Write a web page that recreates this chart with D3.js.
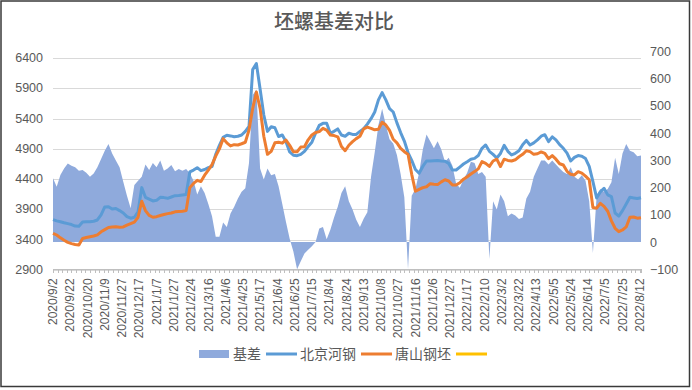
<!DOCTYPE html>
<html>
<head>
<meta charset="utf-8">
<style>
body { margin: 0; background: #fff; }
svg { display: block; font-family: "Liberation Sans", "Noto Sans CJK SC", sans-serif; }
.axis text { fill: #595959; font-size: 12.5px; }
.grid line { stroke: #d9d9d9; stroke-width: 1; shape-rendering: crispEdges; }
.xaxis path, .xaxis line { stroke: #bfbfbf; shape-rendering: crispEdges; }
</style>
<script src="https://cdn.jsdelivr.net/npm/d3@7"></script>
</head>
<body>
<script>
// 交易日序号: 标签每14个交易日一个, 数据每3个交易日取一个
var labelEvery = 14, sampleEvery = 3, lastIndex = 477;

var tickLabels = ["2020/9/2","2020/9/22","2020/10/20","2020/11/9","2020/11/27","2020/12/17",
  "2021/1/7","2021/1/27","2021/2/24","2021/3/16","2021/4/6","2021/4/25","2021/5/17","2021/6/4",
  "2021/6/25","2021/7/15","2021/8/4","2021/8/24","2021/9/13","2021/10/8","2021/10/27","2021/11/16",
  "2021/12/6","2021/12/27","2022/1/17","2022/2/10","2022/3/2","2022/3/22","2022/4/13","2022/5/5",
  "2022/5/24","2022/6/14","2022/7/5","2022/7/25","2022/8/12"];

// 基差 (右轴)
var basis = [234,203,246,270,289,280,275,262,265,255,
  240,252,275,305,335,360,325,300,275,222,
  170,124,210,225,240,285,265,290,275,300,
  262,270,283,260,268,262,268,253,225,175,
  205,180,140,95,20,20,72,55,105,130,
  160,185,198,290,540,560,270,230,270,245,
  250,205,140,74,12,-35,-100,-70,-42,-28,
  -15,0,50,55,10,45,90,130,180,205,
  150,120,82,55,86,110,240,330,430,490,
  430,378,362,320,250,165,-100,170,195,255,
  340,395,370,345,370,340,295,310,280,215,
  200,230,255,295,290,250,257,240,-62,150,
  120,175,150,95,105,98,85,90,160,185,
  240,270,300,300,285,300,285,270,257,250,
  275,240,230,245,225,150,-40,170,195,185,
  195,220,310,250,325,360,335,330,315,318];

// 北京河钢 (左轴)
var beijing = [3720,3700,3687,3670,3655,3640,3615,3610,3680,3685,
  3687,3695,3715,3800,3930,3935,3897,3905,3870,3830,
  3770,3745,3760,3850,4250,4090,4060,4030,4040,4090,
  4085,4073,4095,4117,4120,4128,4135,4510,4540,4580,
  4530,4550,4580,4600,4800,4950,5080,5115,5105,5092,
  5100,5120,5180,5260,6200,6300,5880,5450,5180,5257,
  5240,5095,5120,5010,4840,4785,4778,4800,4850,4930,
  5000,5150,5280,5313,5313,5150,5180,5220,5120,5100,
  5148,5130,5130,5180,5225,5300,5390,5500,5700,5820,
  5700,5555,5500,5320,5160,5020,4830,4700,4550,4487,
  4600,4690,4690,4695,4700,4690,4685,4650,4541,4541,
  4590,4640,4679,4720,4734,4780,4900,4955,4850,4800,
  4740,4815,4950,4850,4790,4817,4860,4960,5030,4955,
  4990,5040,5100,5125,5010,5090,5040,4960,4900,4820,
  4690,4750,4780,4770,4730,4600,4350,4080,4180,4240,
  4130,4100,3830,3780,3870,3980,4090,4080,4070,4084];

// 唐山钢坯 (左轴)
var tangshan = [3495,3467,3420,3380,3345,3325,3310,3300,3410,3425,
  3439,3450,3470,3520,3555,3590,3600,3604,3595,3600,
  3630,3655,3680,3760,4025,3870,3790,3760,3770,3790,
  3805,3820,3830,3850,3855,3860,3870,4250,4320,4370,
  4350,4455,4540,4630,4770,4890,5060,4990,4940,4960,
  4955,4975,5000,5200,5560,5830,5560,5100,4800,4850,
  4990,5000,4985,5037,4950,4844,4844,4920,4927,5040,
  5120,5160,5175,5230,5200,5120,5110,5090,4930,4860,
  4950,5010,5060,5100,5220,5250,5230,5205,5215,5330,
  5285,5195,5050,4990,4900,4844,4800,4470,4190,4220,
  4250,4265,4315,4305,4300,4345,4380,4360,4293,4293,
  4330,4390,4431,4475,4515,4560,4679,4650,4600,4690,
  4720,4600,4720,4700,4690,4710,4760,4800,4860,4845,
  4800,4810,4840,4815,4730,4780,4720,4645,4624,4520,
  4470,4460,4513,4490,4440,4380,3920,3910,3991,3940,
  3860,3700,3578,3522,3550,3600,3760,3765,3745,3753];

var leftTicks = [2900,3400,3900,4400,4900,5400,5900,6400];
var rightTicks = [-100,0,100,200,300,400,500,600,700];

var colors = { basis: "#8faadc", beijing: "#5b9bd5", tangshan: "#ed7d31", blank: "#ffc000" };

var W = 692, H = 390;
var margin = { top: 51.5, right: 51, bottom: 120.7, left: 53 },
    width = W - margin.left - margin.right,
    height = H - margin.top - margin.bottom;

var svg = d3.select("body").append("svg")
    .attr("width", W)
    .attr("height", H);

svg.append("rect")
    .attr("x", 1).attr("y", 1)
    .attr("width", 688.5).attr("height", 385.5)
    .attr("fill", "#fff")
    .attr("stroke", "#3a3a3a")
    .attr("stroke-width", 1.5);

svg.append("text")
    .attr("x", 334).attr("y", 29)
    .attr("text-anchor", "middle")
    .style("font-family", "'Noto Sans CJK SC', sans-serif")
    .style("font-size", "20px")
    .style("font-weight", 500)
    .attr("fill", "#595959")
    .text("坯螺基差对比");

var g = svg.append("g")
    .attr("transform", "translate(" + margin.left + "," + margin.top + ")");

var x = d3.scaleLinear().domain([0, lastIndex]).range([0, width]);
var yL = d3.scaleLinear().domain([2900, 6500]).range([height, 0]);
var yR = d3.scaleLinear().domain([-100, 700]).range([height, 0]);

// 网格线
g.append("g").attr("class", "grid")
  .selectAll("line").data(leftTicks).enter().append("line")
    .attr("x1", 0).attr("x2", width)
    .attr("y1", function(d) { return Math.round(yL(d)) + 0.5; })
    .attr("y2", function(d) { return Math.round(yL(d)) + 0.5; });

// 基差面积
var area = d3.area()
    .x(function(d, i) { return x(i * sampleEvery); })
    .y0(yR(0))
    .y1(function(d) { return yR(d); });

g.append("path")
    .datum(basis)
    .attr("fill", colors.basis)
    .attr("d", area);

// x 轴
g.append("g")
    .attr("class", "xaxis")
    .attr("transform", "translate(0," + height + ")")
    .call(d3.axisBottom(x)
        .tickValues(d3.range(0, lastIndex + 0.1, 3.75))
        .tickSize(4)
        .tickFormat(""));

g.append("g").attr("class", "axis")
  .selectAll("text").data(tickLabels).enter().append("text")
    .attr("transform", function(d, i) {
        return "translate(" + x(i * labelEvery) + "," + (height + 9) + ") rotate(-90)";
    })
    .attr("text-anchor", "end")
    .attr("dy", "0.35em")
    .style("font-size", "12px")
    .text(function(d) { return d; });

// 左右轴
g.append("g").attr("class", "axis")
    .call(d3.axisLeft(yL).tickValues(leftTicks).tickSize(0).tickPadding(10).tickFormat(d3.format("d")))
    .call(function(s) { s.select(".domain").remove(); });

g.append("g").attr("class", "axis")
    .attr("transform", "translate(" + width + ",0)")
    .call(d3.axisRight(yR).tickValues(rightTicks).tickSize(0).tickPadding(9).tickFormat(d3.format("d")))
    .call(function(s) { s.select(".domain").remove(); });

g.selectAll(".axis text").attr("fill", "#595959");

// 价格线
var line = d3.line()
    .x(function(d, i) { return x(i * sampleEvery); })
    .y(function(d) { return yL(d); });

[["beijing", beijing], ["tangshan", tangshan]].forEach(function(s) {
    g.append("path")
        .datum(s[1])
        .attr("fill", "none")
        .attr("stroke", colors[s[0]])
        .attr("stroke-width", 3)
        .attr("stroke-linejoin", "round")
        .attr("d", line);
});

// 图例
var legendItems = [
    { name: "基差", color: colors.basis, type: "rect" },
    { name: "北京河钢", color: colors.beijing, type: "line" },
    { name: "唐山钢坯", color: colors.tangshan, type: "line" },
    { name: "", color: colors.blank, type: "line" }
];

var legend = svg.append("g").attr("transform", "translate(199,354)");
var lx = 0;
legendItems.forEach(function(d) {
    if (d.type === "rect") {
        legend.append("rect")
            .attr("x", lx).attr("y", -4)
            .attr("width", 30).attr("height", 8)
            .attr("fill", d.color);
    } else {
        legend.append("line")
            .attr("x1", lx).attr("x2", lx + 31)
            .attr("y1", 0).attr("y2", 0)
            .attr("stroke", d.color)
            .attr("stroke-width", 3);
    }
    var t = legend.append("text")
        .attr("x", lx + 34)
        .attr("dy", "0.35em")
        .style("font-family", "'Noto Sans CJK SC', sans-serif")
        .style("font-size", "14px")
        .attr("fill", "#595959")
        .text(d.name);
    lx += 34 + t.node().getComputedTextLength() + 5;
});
</script>
</body>
</html>
